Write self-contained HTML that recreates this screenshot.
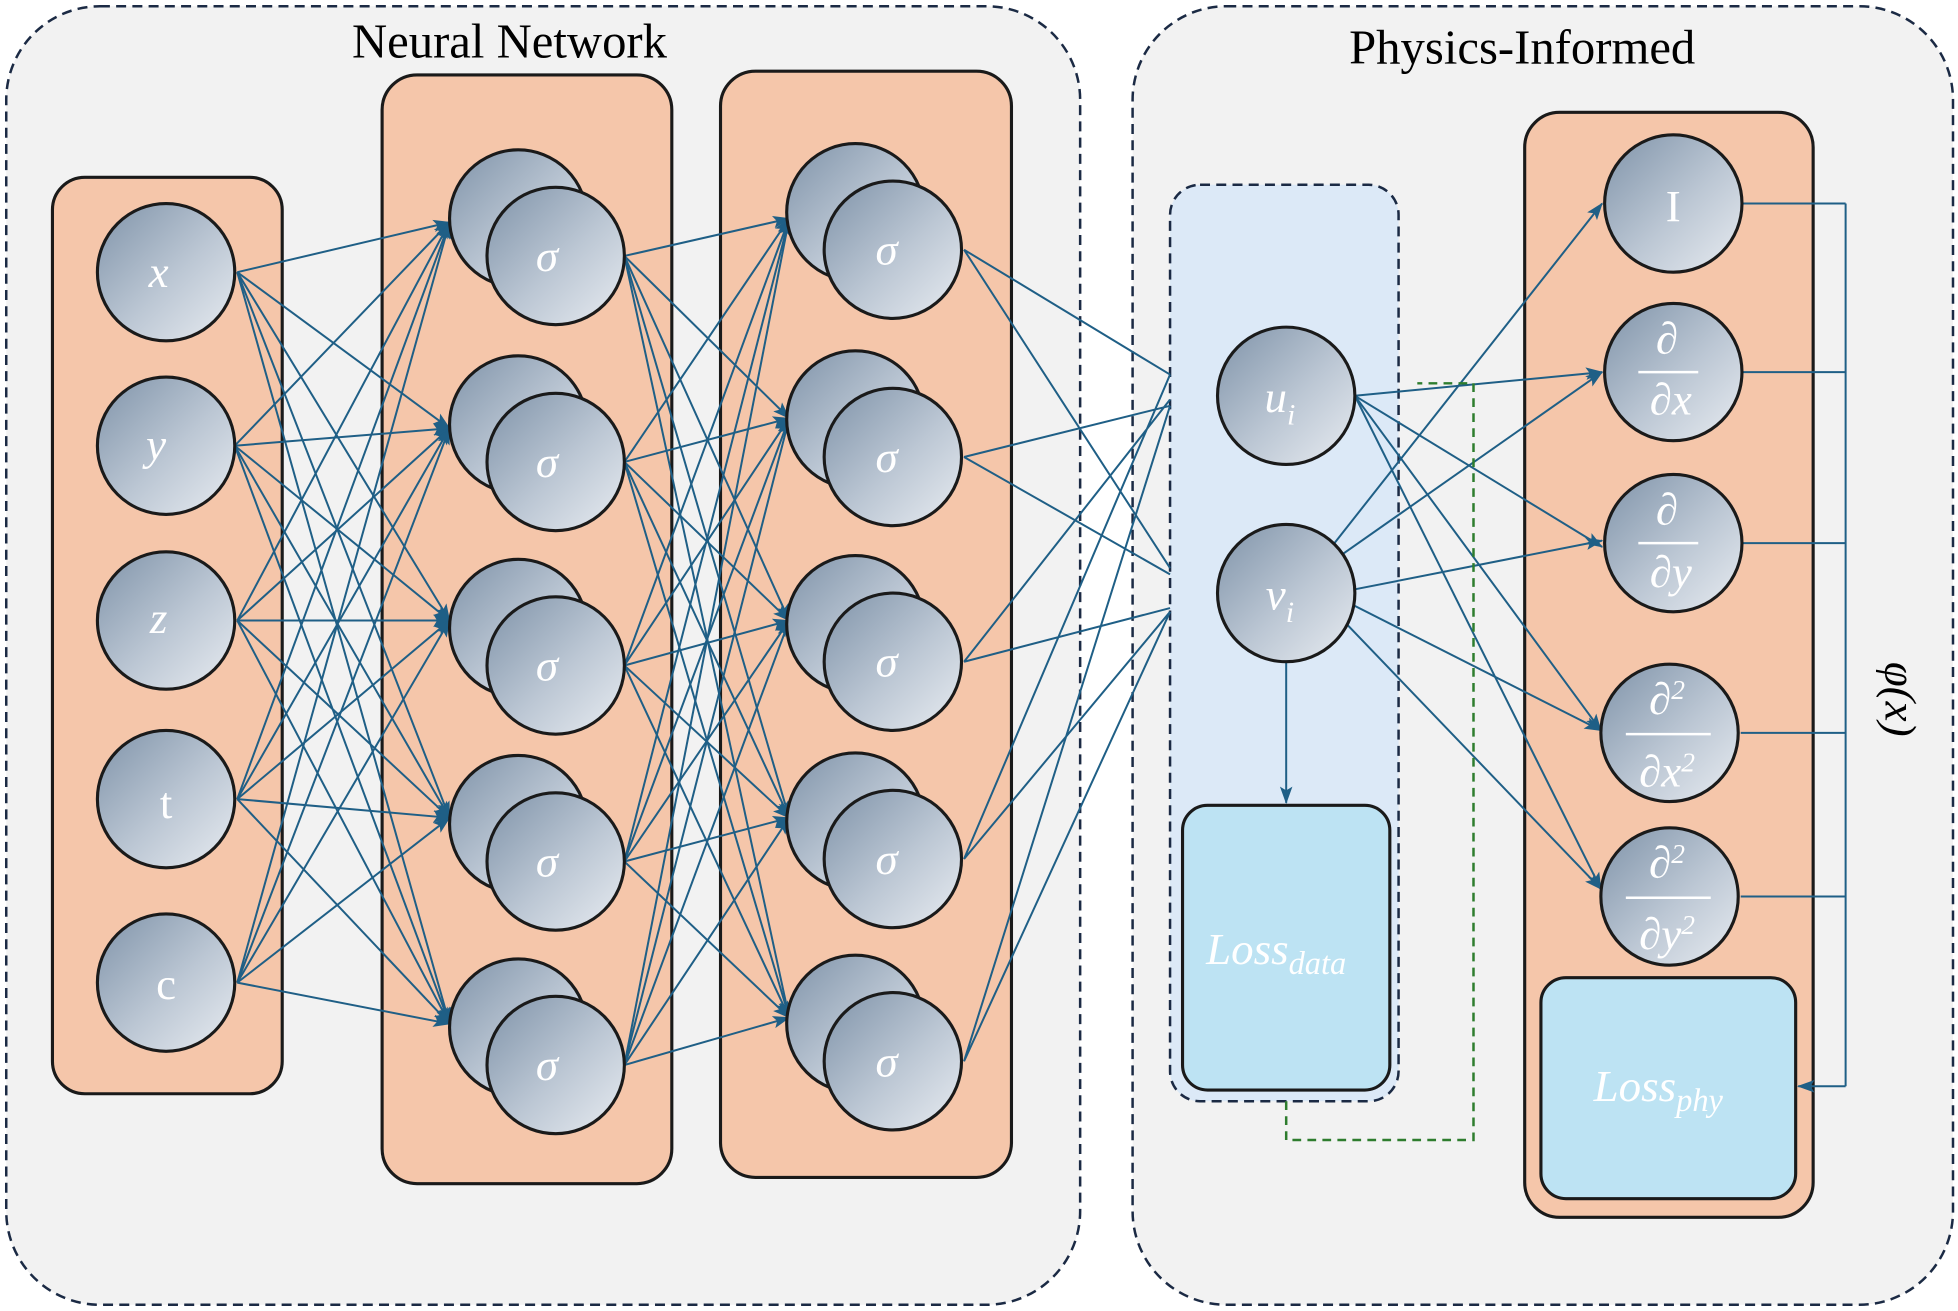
<!DOCTYPE html>
<html><head><meta charset="utf-8"><style>
html,body{margin:0;padding:0;background:#fff;}
svg{display:block;}
text{font-family:"Liberation Serif",serif;}
</style></head><body>
<svg width="1958" height="1311" viewBox="0 0 1568 1050" preserveAspectRatio="none" xmlns="http://www.w3.org/2000/svg">
<defs>
<linearGradient id="ng" x1="0" y1="0" x2="1" y2="1">
<stop offset="0" stop-color="#7f93a9"/><stop offset="0.55" stop-color="#bcc7d4"/><stop offset="1" stop-color="#e8ecf1"/>
</linearGradient>
<marker id="ar" markerWidth="14" markerHeight="12" refX="13" refY="6" orient="auto" markerUnits="userSpaceOnUse">
<path d="M0,1 L14,6 L0,11 L3,6 z" fill="#1f5f86"/></marker>
</defs>
<rect x="0" y="0" width="1568" height="1050" fill="#fff"/>
<rect x="5" y="5" width="860" height="1040" rx="75" fill="#f2f2f2" stroke="#1b2a44" stroke-width="2" stroke-dasharray="8,5"/>
<rect x="907" y="5" width="657" height="1040" rx="75" fill="#f2f2f2" stroke="#1b2a44" stroke-width="2" stroke-dasharray="8,5"/>
<text x="408" y="46" font-size="39" text-anchor="middle">Neural Network</text>
<text x="1219" y="51" font-size="39" text-anchor="middle">Physics-Informed</text>

<rect x="42" y="142" width="184" height="734" rx="26" fill="#f5c6aa" stroke="#1a1a1a" stroke-width="2.5"/>
<rect x="306" y="60" width="232" height="888" rx="28" fill="#f5c6aa" stroke="#1a1a1a" stroke-width="2.5"/>
<rect x="577" y="57" width="233" height="886" rx="28" fill="#f5c6aa" stroke="#1a1a1a" stroke-width="2.5"/>
<rect x="937" y="148" width="183" height="734" rx="24" fill="#dce9f7" stroke="#1b2a44" stroke-width="2" stroke-dasharray="8,5"/>
<rect x="1221" y="90" width="231" height="885" rx="28" fill="#f5c6aa" stroke="#1a1a1a" stroke-width="2.5"/>

<g stroke="#1f5f86" stroke-width="1.6" fill="none">
<g marker-end="url(#ar)">
<line x1="190" y1="218" x2="360" y2="178"/><line x1="190" y1="218" x2="360" y2="343"/><line x1="190" y1="218" x2="360" y2="497"/><line x1="190" y1="218" x2="360" y2="655"/><line x1="190" y1="218" x2="360" y2="820"/>
<line x1="188" y1="357" x2="360" y2="178"/><line x1="188" y1="357" x2="360" y2="343"/><line x1="188" y1="357" x2="360" y2="497"/><line x1="188" y1="357" x2="360" y2="655"/><line x1="188" y1="357" x2="360" y2="820"/>
<line x1="190" y1="497" x2="360" y2="178"/><line x1="190" y1="497" x2="360" y2="343"/><line x1="190" y1="497" x2="360" y2="497"/><line x1="190" y1="497" x2="360" y2="655"/><line x1="190" y1="497" x2="360" y2="820"/>
<line x1="190" y1="640" x2="360" y2="178"/><line x1="190" y1="640" x2="360" y2="343"/><line x1="190" y1="640" x2="360" y2="497"/><line x1="190" y1="640" x2="360" y2="655"/><line x1="190" y1="640" x2="360" y2="820"/>
<line x1="190" y1="787" x2="360" y2="178"/><line x1="190" y1="787" x2="360" y2="343"/><line x1="190" y1="787" x2="360" y2="497"/><line x1="190" y1="787" x2="360" y2="655"/><line x1="190" y1="787" x2="360" y2="820"/>

<line x1="500" y1="205" x2="632" y2="175"/><line x1="500" y1="205" x2="632" y2="335"/><line x1="500" y1="205" x2="632" y2="497"/><line x1="500" y1="205" x2="632" y2="655"/><line x1="500" y1="205" x2="632" y2="815"/>
<line x1="500" y1="370" x2="632" y2="175"/><line x1="500" y1="370" x2="632" y2="335"/><line x1="500" y1="370" x2="632" y2="497"/><line x1="500" y1="370" x2="632" y2="655"/><line x1="500" y1="370" x2="632" y2="815"/>
<line x1="500" y1="533" x2="632" y2="175"/><line x1="500" y1="533" x2="632" y2="335"/><line x1="500" y1="533" x2="632" y2="497"/><line x1="500" y1="533" x2="632" y2="655"/><line x1="500" y1="533" x2="632" y2="815"/>
<line x1="500" y1="690" x2="632" y2="175"/><line x1="500" y1="690" x2="632" y2="335"/><line x1="500" y1="690" x2="632" y2="497"/><line x1="500" y1="690" x2="632" y2="655"/><line x1="500" y1="690" x2="632" y2="815"/>
<line x1="500" y1="853" x2="632" y2="175"/><line x1="500" y1="853" x2="632" y2="335"/><line x1="500" y1="853" x2="632" y2="497"/><line x1="500" y1="853" x2="632" y2="655"/><line x1="500" y1="853" x2="632" y2="815"/>

<line x1="1085" y1="317" x2="1283" y2="298"/><line x1="1085" y1="317" x2="1283" y2="438"/><line x1="1085" y1="317" x2="1282" y2="585"/><line x1="1085" y1="317" x2="1282" y2="712"/>
<line x1="1045" y1="465" x2="1283" y2="163"/><line x1="1045" y1="465" x2="1283" y2="298"/><line x1="1085" y1="472" x2="1283" y2="433"/><line x1="1045" y1="465" x2="1282" y2="585"/><line x1="1045" y1="465" x2="1282" y2="712"/>
<line x1="1030" y1="530" x2="1030" y2="643"/>
<line x1="1478" y1="870" x2="1440" y2="870"/>
</g>
<path d="M772,200L937,300M772,200L937,455M772,366L937,325M772,366L937,460M772,530L937,320M772,530L937,487M772,688L937,300M772,688L937,490M772,850L937,325M772,850L937,490"/>
<path d="M1396,163H1478M1396,298H1478M1396,435H1478M1394,587H1478M1394,718H1478M1478,163V870"/>
</g>
<path d="M1030,882V913H1180V307H1135" fill="none" stroke="#2e7d2e" stroke-width="2" stroke-dasharray="7,5"/>

<g stroke="#1a1a1a" stroke-width="2.5" fill="url(#ng)">
<circle cx="133" cy="218" r="55"/><circle cx="133" cy="357" r="55"/><circle cx="133" cy="497" r="55"/><circle cx="133" cy="640" r="55"/><circle cx="133" cy="787" r="55"/>
<circle cx="415" cy="175" r="55"/><circle cx="445" cy="205" r="55"/>
<circle cx="415" cy="340" r="55"/><circle cx="445" cy="370" r="55"/>
<circle cx="415" cy="503" r="55"/><circle cx="445" cy="533" r="55"/>
<circle cx="415" cy="660" r="55"/><circle cx="445" cy="690" r="55"/>
<circle cx="415" cy="823" r="55"/><circle cx="445" cy="853" r="55"/>
<circle cx="685" cy="170" r="55"/><circle cx="715" cy="200" r="55"/>
<circle cx="685" cy="336" r="55"/><circle cx="715" cy="366" r="55"/>
<circle cx="685" cy="500" r="55"/><circle cx="715" cy="530" r="55"/>
<circle cx="685" cy="658" r="55"/><circle cx="715" cy="688" r="55"/>
<circle cx="685" cy="820" r="55"/><circle cx="715" cy="850" r="55"/>
<circle cx="1030" cy="317" r="55"/><circle cx="1030" cy="475" r="55"/>
<circle cx="1340" cy="163" r="55"/><circle cx="1340" cy="298" r="55"/><circle cx="1340" cy="435" r="55"/><circle cx="1337" cy="587" r="55"/><circle cx="1337" cy="718" r="55"/>
</g>
<rect x="947" y="645" width="166" height="228" rx="20" fill="#bde3f3" stroke="#1a1a1a" stroke-width="2.5"/>
<rect x="1234" y="783" width="204" height="177" rx="20" fill="#bde3f3" stroke="#1a1a1a" stroke-width="2.5"/>

<g fill="#fff" font-size="36" text-anchor="middle" font-style="italic">
<text x="127" y="230">x</text><text x="125" y="368">y</text><text x="127" y="507">z</text>
<text x="133" y="655" font-style="normal">t</text><text x="133" y="800" font-style="normal">c</text>
<text x="438" y="217">σ</text><text x="438" y="382">σ</text><text x="438" y="545">σ</text><text x="438" y="702">σ</text><text x="438" y="865">σ</text>
<text x="710" y="212">σ</text><text x="710" y="378">σ</text><text x="710" y="542">σ</text><text x="710" y="700">σ</text><text x="710" y="862">σ</text>
<text x="1025" y="330">u<tspan font-size="24" dy="10">i</tspan></text>
<text x="1025" y="488">v<tspan font-size="24" dy="10">i</tspan></text>
<text x="1340" y="177" font-style="normal">I</text>
<text x="1335" y="283">∂</text><line x1="1312" y1="298" x2="1360" y2="298" stroke="#fff" stroke-width="2"/><text x="1338" y="332">∂x</text>
<text x="1335" y="420">∂</text><line x1="1312" y1="435" x2="1360" y2="435" stroke="#fff" stroke-width="2"/><text x="1338" y="470">∂y</text>
<text x="1335" y="572">∂<tspan font-size="22" dy="-12">2</tspan></text><line x1="1302" y1="588" x2="1370" y2="588" stroke="#fff" stroke-width="2"/><text x="1335" y="630">∂x<tspan font-size="22" dy="-12">2</tspan></text>
<text x="1335" y="703">∂<tspan font-size="22" dy="-12">2</tspan></text><line x1="1302" y1="719" x2="1370" y2="719" stroke="#fff" stroke-width="2"/><text x="1335" y="760">∂y<tspan font-size="22" dy="-12">2</tspan></text>
<text x="1022" y="772">Loss<tspan font-size="26" dy="8">data</tspan></text>
<text x="1328" y="882">Loss<tspan font-size="26" dy="8">phy</tspan></text>
</g>
<text x="1510" y="560" font-size="36" font-style="italic" text-anchor="middle" transform="rotate(90 1510 560)">φ(x)</text>
</svg>
</body></html>
